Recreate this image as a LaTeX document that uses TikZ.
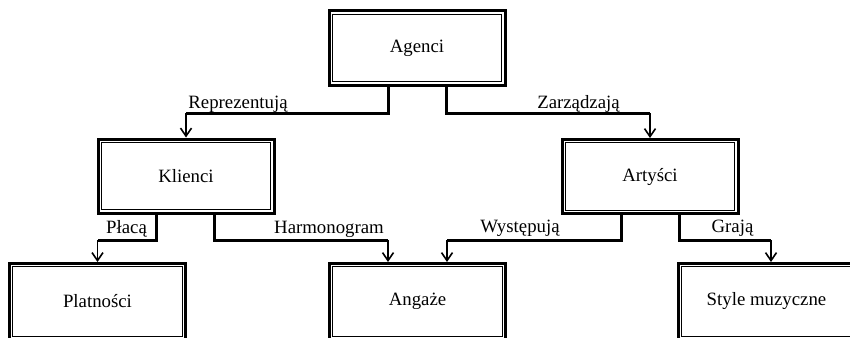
\documentclass[tikz,border=0pt]{standalone}
\usepackage{fontspec}
\setmainfont{Liberation Serif}
\usetikzlibrary{arrows.meta}
\begin{document}
\begin{tikzpicture}[x=1pt,y=-1pt,
  txt/.style={font=\fontsize{18.8}{22}\selectfont},
  % heavy outer frame of a box; the thin inner frame is added below
  box/.style={txt, draw, line width=3pt, minimum width=176pt, minimum height=74pt, inner sep=0pt},
  lowbox/.style={box, minimum height=76pt},
  inner frame/.style={line width=1.1pt},
  leg/.style={line width=3pt},
  drop/.style={line width=1.6pt, -{Straight Barb[length=8pt,width=11pt,line width=1.6pt]}},
  lbl/.style={txt, anchor=base, inner sep=0pt}]

\useasboundingbox (0,0) rectangle (850,337);
\clip (0,0) rectangle (850,337);

% entities
\node[box] (agenci)       at (417,48)      {Agenci};
\node[box] (klienci)      at (186,176)     {Klienci};
\node[box] (artysci)      at (650,176.5)   {Artyści};
\node[lowbox] (platnosci) at (97.5,301.5)  {Platności};
\node[lowbox] (angaze)    at (417.5,301.5) {Angaże};
\node[lowbox] (style)     at (766.5,301.5) {Style muzyczne};

% thin inner frames
\foreach \n in {agenci,klienci,artysci,platnosci,angaze,style}
  \draw[inner frame] ([shift={(4.6pt,-4.6pt)}]\n.north west) rectangle ([shift={(-4.6pt,4.6pt)}]\n.south east);

% rail heights of the connectors
\coordinate (railA) at (0,113);
\coordinate (railB) at (0,240);

% Agenci -> Klienci / Artyści
\coordinate (jRep) at (klienci.north |- railA);
\coordinate (jZar) at (artysci.north |- railA);
\draw[leg] ([xshift=-29pt]agenci.south) |- (jRep);
\draw[drop] (jRep) -- (klienci.north);
\draw[leg] ([xshift=29pt]agenci.south) |- (jZar);
\draw[drop] (jZar) -- (artysci.north);

% Klienci -> Platności / Angaże
\coordinate (angL) at ([xshift=-29.5pt]angaze.north);
\coordinate (angR) at ([xshift=29.5pt]angaze.north);
\coordinate (styT) at ([xshift=4.5pt]style.north);
\coordinate (jPla) at (platnosci.north |- railB);
\coordinate (jHar) at (angL |- railB);
\draw[leg] ([xshift=-29.5pt]klienci.south) |- (jPla);
\draw[drop] (jPla) -- (platnosci.north);
\draw[leg] ([xshift=28pt]klienci.south) |- (jHar);
\draw[drop] (jHar) -- (angL);

% Artyści -> Angaże / Style muzyczne
\coordinate (jWys) at (angR |- railB);
\coordinate (jGra) at (styT |- railB);
\draw[leg] ([xshift=-28.5pt]artysci.south) |- (jWys);
\draw[drop] (jWys) -- (angR);
\draw[leg] ([xshift=29pt]artysci.south) |- (jGra);
\draw[drop] (jGra) -- (styT);

% relation labels
\node[lbl] (lRep) at (238,108)   {Reprezentują};
\node[lbl] (lZar) at (578.5,108) {Zarządzają};
\node[lbl] (lPla) at (126.5,233) {Płacą};
\node[lbl] (lHar) at (329,233)   {Harmonogram};
\node[lbl] (lWys) at (520,232.5) {Występują};
\node[lbl] (lGra) at (732.5,232.5) {Grają};
\end{tikzpicture}
\end{document}
